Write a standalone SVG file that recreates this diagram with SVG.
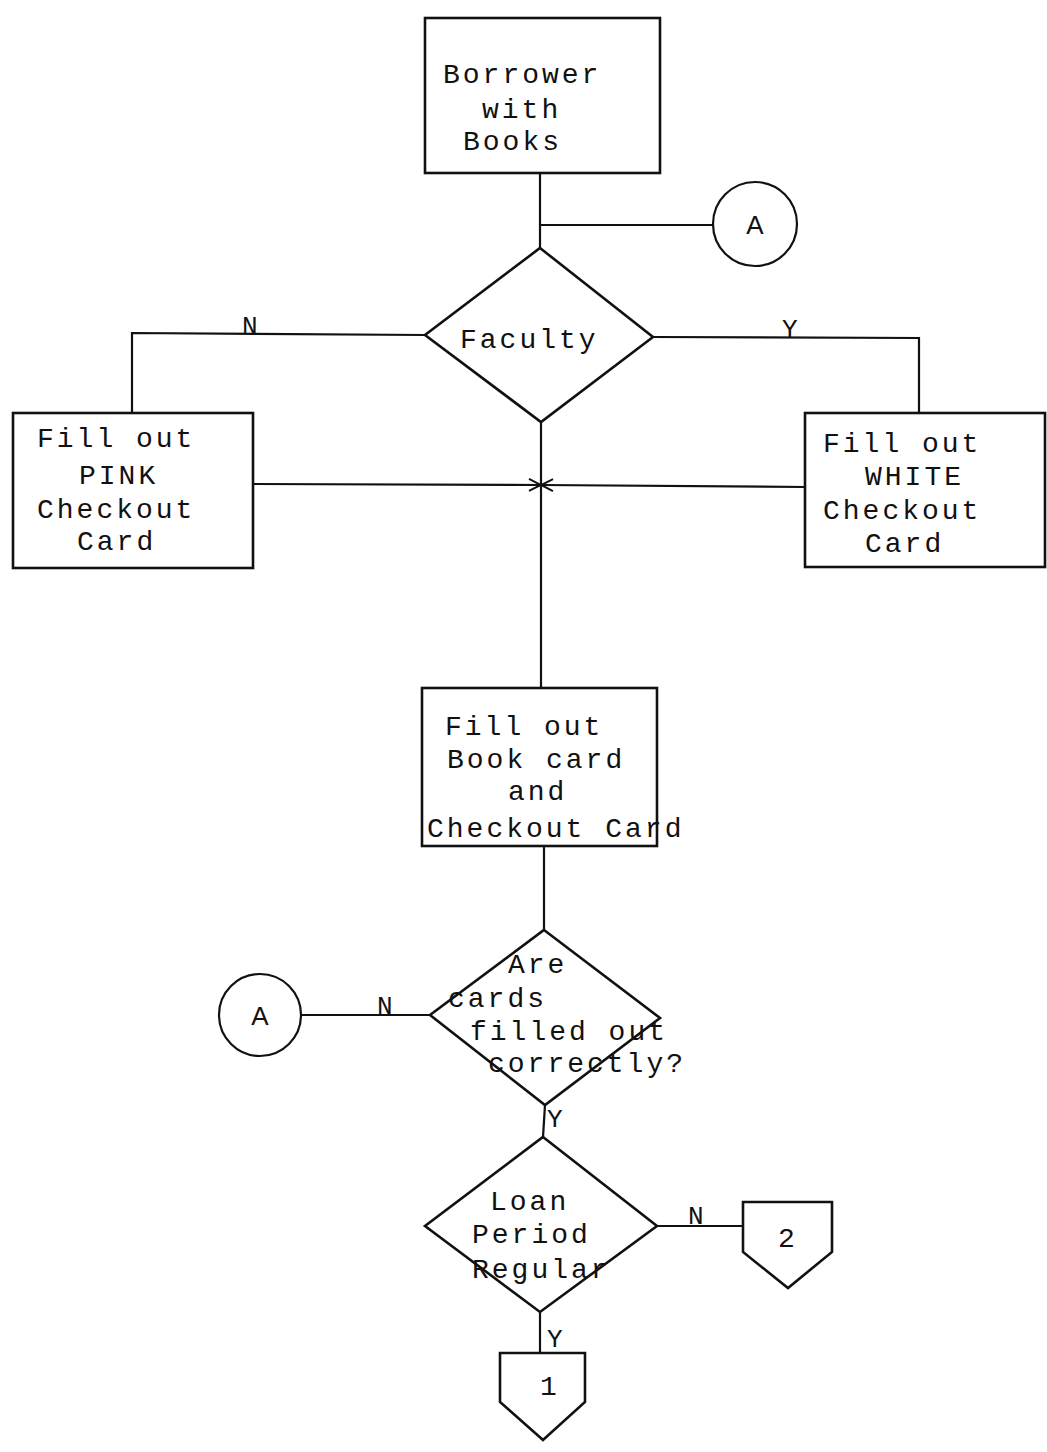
<svg xmlns="http://www.w3.org/2000/svg" width="1047" height="1452" viewBox="0 0 1047 1452">
<style>
.box{fill:none;stroke:#111;stroke-width:2.6}
.ln{fill:none;stroke:#111;stroke-width:2.2}
.t{font-family:"Liberation Mono","DejaVu Sans Mono",monospace;font-size:28px;letter-spacing:3px;fill:#111}
.lb{font-family:"Liberation Mono","DejaVu Sans Mono",monospace;font-size:26px;fill:#111}
.c{font-family:"Liberation Sans",Arial,sans-serif;font-size:26px;fill:#111;text-anchor:middle}
</style>
<defs>
<marker id="chev" viewBox="0 0 14 14" refX="13" refY="7" markerWidth="14" markerHeight="14" markerUnits="userSpaceOnUse" orient="auto">
<path d="M1,1 L13,7 L1,13" fill="none" stroke="#111" stroke-width="2"/>
</marker>
</defs>
<rect width="1047" height="1452" fill="#fff"/>
<g id="connectors">
<line class="ln" x1="540" y1="173" x2="540" y2="248"/>
<line class="ln" x1="540" y1="225" x2="713" y2="225"/>
<polyline class="ln" points="425,335 132,333 132,413"/>
<polyline class="ln" points="653,337 919,338 919,413"/>
<line class="ln" x1="253" y1="484" x2="541" y2="485" marker-end="url(#chev)"/>
<line class="ln" x1="805" y1="487" x2="541" y2="485" marker-end="url(#chev)"/>
<line class="ln" x1="541" y1="422" x2="541" y2="688"/>
<line class="ln" x1="544" y1="846" x2="544" y2="930"/>
<line class="ln" x1="301" y1="1015" x2="430" y2="1015"/>
<line class="ln" x1="545" y1="1105" x2="543" y2="1137"/>
<line class="ln" x1="657" y1="1226" x2="743" y2="1226"/>
<line class="ln" x1="540" y1="1312" x2="540" y2="1353"/>
<text class="lb" x="242" y="334">N</text>
<text class="lb" x="782" y="337">Y</text>
<text class="lb" x="377" y="1014">N</text>
<text class="lb" x="547" y="1127">Y</text>
<text class="lb" x="688" y="1224">N</text>
<text class="lb" x="547" y="1347">Y</text>
</g>
<g id="borrower">
<rect class="box" x="425" y="18" width="235" height="155"/>
<text class="t" x="443" y="83">Borrower</text>
<text class="t" x="482" y="118">with</text>
<text class="t" x="463" y="150">Books</text>
</g>
<g id="connectorA1">
<circle class="ln" cx="755" cy="224" r="42"/>
<text class="c" x="755" y="234">A</text>
</g>
<g id="faculty">
<polygon class="box" points="540,248 653,337 541,422 425,335"/>
<text class="t" x="460" y="348">Faculty</text>
</g>
<g id="pink">
<rect class="box" x="13" y="413" width="240" height="155"/>
<text class="t" x="37" y="447">Fill out</text>
<text class="t" x="79" y="484">PINK</text>
<text class="t" x="37" y="518">Checkout</text>
<text class="t" x="77" y="550">Card</text>
</g>
<g id="white">
<rect class="box" x="805" y="413" width="240" height="154"/>
<text class="t" x="823" y="452">Fill out</text>
<text class="t" x="865" y="485">WHITE</text>
<text class="t" x="823" y="519">Checkout</text>
<text class="t" x="865" y="552">Card</text>
</g>
<g id="bookcard">
<rect class="box" x="422" y="688" width="235" height="158"/>
<text class="t" x="445" y="735">Fill out</text>
<text class="t" x="447" y="768">Book card</text>
<text class="t" x="508" y="800">and</text>
<text class="t" x="427" y="837">Checkout Card</text>
</g>
<g id="correct">
<polygon class="box" points="544,930 660,1018 545,1105 430,1015"/>
<text class="t" x="508" y="973">Are</text>
<text class="t" x="448" y="1007">cards</text>
<text class="t" x="470" y="1040">filled out</text>
<text class="t" x="488" y="1072">correctly?</text>
</g>
<g id="connectorA2">
<circle class="ln" cx="260" cy="1015" r="41"/>
<text class="c" x="260" y="1025">A</text>
</g>
<g id="loan">
<polygon class="box" points="543,1137 657,1226 540,1312 425,1226"/>
<text class="t" x="490" y="1210">Loan</text>
<text class="t" x="472" y="1243">Period</text>
<text class="t" x="472" y="1278">Regular</text>
</g>
<g id="page2">
<polygon class="box" points="743,1202 832,1202 832,1252 788,1288 743,1252"/>
<text class="t" x="778" y="1247">2</text>
</g>
<g id="page1">
<polygon class="box" points="500,1353 585,1353 585,1402 543,1440 500,1402"/>
<text class="t" x="540" y="1395">1</text>
</g>
</svg>
